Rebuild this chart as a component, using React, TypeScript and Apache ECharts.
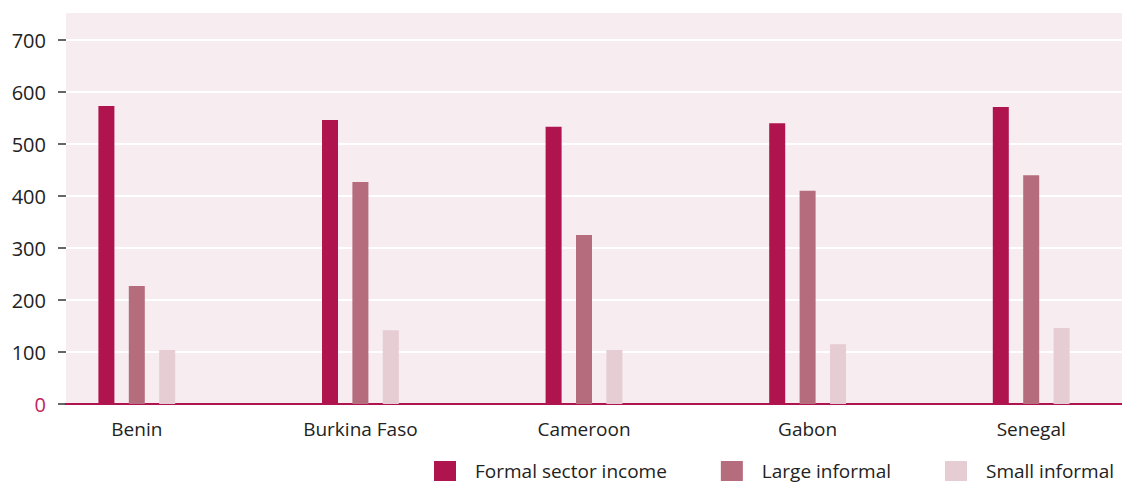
import React, { useEffect, useRef } from "react";
import * as echarts from "echarts";

const categories = ["Benin", "Burkina Faso", "Cameroon", "Gabon", "Senegal"];
const seriesNames = ["Formal sector income", "Large informal", "Small informal"];
const formal = [573, 546, 533, 540, 571];
const largeInformal = [227, 427, 325, 410, 440];
const smallInformal = [104, 142, 104, 115, 146];
const colors = ["#b0144f", "#b56c7d", "#e6ccd3"];

const FONT = "'Open Sans', 'Noto Sans', sans-serif";

export default function App() {
  const ref = useRef<HTMLDivElement>(null);
  useEffect(() => {
    if (!ref.current) return;
    const chart = echarts.init(ref.current, undefined, { renderer: "svg" });
    const data = [formal, largeInformal, smallInformal];
    chart.setOption({
      animation: false,
      textStyle: { fontFamily: FONT },
      grid: [
        { left: 66, right: 0, top: 13, bottom: 81, show: true, backgroundColor: "#f7ecf0", borderWidth: 0, outerBoundsMode: "none", containLabel: false },
        { left: 66, right: 0, top: 40, bottom: 81, outerBoundsMode: "none", containLabel: false },
        { left: 25, width: 1118, top: 40, bottom: 81, outerBoundsMode: "none", containLabel: false },
      ],
      xAxis: [
        { gridIndex: 0, type: "category", data: categories, show: false },
        {
          gridIndex: 1,
          type: "category",
          data: categories,
          axisLine: { show: true, lineStyle: { color: "#b0144f", width: 2 } },
          axisTick: { show: false },
          axisLabel: { show: false },
        },
        {
          gridIndex: 2,
          type: "category",
          data: categories,
          axisLine: { show: false },
          axisTick: { show: false },
          axisLabel: { margin: 15, fontSize: 19, color: "#222", fontFamily: FONT },
        },
      ],
      yAxis: [
        { gridIndex: 0, type: "value", show: false, min: 0, max: 750 },
        {
          gridIndex: 1,
          type: "value",
          min: 0,
          max: 700,
          interval: 100,
          axisLine: { show: false },
          axisTick: { show: true, length: 8, lineStyle: { color: "#333", width: 1.5 } },
          axisLabel: {
            margin: 20,
            fontSize: 20,
            fontFamily: FONT,
            color: (v: any) => (Number(v) === 0 ? "#c0245e" : "#222"),
          },
          splitLine: { show: true, lineStyle: { color: "#ffffff", width: 2 } },
        },
        { gridIndex: 2, type: "value", min: 0, max: 700, show: false },
      ],
      legend: {
        left: 434,
        top: 461,
        padding: 0,
        itemWidth: 22,
        itemHeight: 20,
        itemGap: 54,
        icon: "rect",
        textStyle: { fontSize: 19, color: "#222", fontFamily: FONT, padding: [0, 0, 0, 14] },
        data: seriesNames,
      },
      series: seriesNames.map((name, i) => ({
        name,
        type: "bar",
        xAxisIndex: 2,
        yAxisIndex: 2,
        data: data[i],
        barWidth: 16,
        barGap: "90%",
        itemStyle: { color: colors[i] },
      })),
    });
    return () => chart.dispose();
  }, []);
  return <div ref={ref} style={{ position: "absolute", left: 0, top: 0, width: 1122, height: 485 }} />;
}
